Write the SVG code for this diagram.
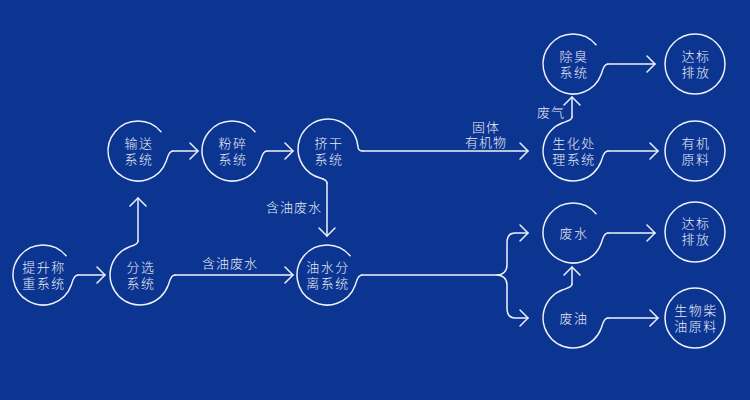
<svg xmlns="http://www.w3.org/2000/svg" width="750" height="400" viewBox="0 0 750 400">
<style>
.bg{fill:#0c3491}
.o{fill:none;stroke:#eef2fa;stroke-width:1.5;stroke-linecap:round;stroke-linejoin:round}
.t{font-family:"Liberation Sans","Noto Sans CJK SC",sans-serif;font-size:13px;font-weight:300;fill:#e8edf7;text-anchor:middle;letter-spacing:1.5px}
.l{font-family:"Liberation Sans","Noto Sans CJK SC",sans-serif;font-size:13px;font-weight:300;fill:#e8edf7;letter-spacing:1px}
</style>
<rect class="bg" x="0" y="0" width="750" height="400"/>
<g id="connectors" class="o">
<path d="M78,275 L105,275"/><polyline points="97,267 105,275 97,283"/>
<path d="M138,241 L138,198"/><polyline points="130,206 138,198 146,206"/>
<path d="M175,275 L293,275"/><polyline points="285,267 293,275 285,283"/>
<path d="M173,151 L198,151"/><polyline points="190,143 198,151 190,159"/>
<path d="M267,151 L293,151"/><polyline points="285,143 293,151 285,159"/>
<path d="M327,183 L327,236"/><polyline points="319,228 327,236 335,228"/>
<path d="M363,151 L528,151"/><polyline points="520,143 528,151 520,159"/>
<path d="M362,275 L497,275 C503,275 507,271 507,265 L507,243 C507,237 509,233 515,233 L528,233"/><polyline points="520,225 528,233 520,241"/>
<path d="M497,275 C503,275 507,279 507,285 L507,308 C507,314 509,318 515,318 L528,318"/><polyline points="520,310 528,318 520,326"/>
<path d="M608,64 L655,64"/><polyline points="647,56 655,64 647,72"/>
<path d="M572,117 L572,97"/><polyline points="564,105 572,97 580,105"/>
<path d="M608,151 L658,151"/><polyline points="650,143 658,151 650,159"/>
<path d="M608,233 L655,233"/><polyline points="647,225 655,233 647,241"/>
<path d="M572,284 L572,267"/><polyline points="564,275 572,267 580,275"/>
<path d="M608,318 L658,318"/><polyline points="650,310 658,318 650,326"/>
</g>
<g id="labels">
<text class="l" x="230" y="268" text-anchor="middle">含油废水</text>
<text class="l" x="322" y="212" text-anchor="end">含油废水</text>
<text class="l" text-anchor="middle" x="486" y="132">固体<tspan x="486" dy="15">有机物</tspan></text>
<text class="l" x="551" y="117" text-anchor="middle">废气</text>
</g>
<g id="n-lift">
<path class="o" d="M66,255.7 A30,30 0 1 0 71.2,285.3 C72.6,281.5 73.5,275 78,275"/>
<text class="t" x="44" y="272">提升称<tspan x="44" dy="16">重系统</tspan></text>
</g>
<g id="n-sort">
<path class="o" d="M138,241 C138,244.5 133,245.6 129.7,246.8 A30,30 0 1 0 168.2,285.3 C169.6,281.5 170.5,275 175,275"/>
<text class="t" x="141" y="272">分选<tspan x="141" dy="16">系统</tspan></text>
</g>
<g id="n-convey">
<path class="o" d="M161,131.7 A30,30 0 1 0 166.2,161.3 C167.6,157.5 168.5,151 173,151"/>
<text class="t" x="139" y="148">输送<tspan x="139" dy="16">系统</tspan></text>
</g>
<g id="n-crush">
<path class="o" d="M255,131.7 A30,30 0 1 0 260.2,161.3 C261.6,157.5 262.5,151 267,151"/>
<text class="t" x="233" y="148">粉碎<tspan x="233" dy="16">系统</tspan></text>
</g>
<g id="n-squeeze">
<path class="o" d="M327,183 C327,180 323.1,178.8 320.2,178 A30,30 0 1 1 357.9,146.4 C358.2,149.5 359,151 363,151"/>
<text class="t" x="329" y="148">挤干<tspan x="329" dy="16">系统</tspan></text>
</g>
<g id="n-oilwater">
<path class="o" d="M350,255.7 A30,30 0 1 0 355.2,285.3 C356.6,281.5 357.5,275 362,275"/>
<text class="t" x="328" y="272">油水分<tspan x="328" dy="16">离系统</tspan></text>
</g>
<g id="n-deodor">
<path class="o" d="M596,44.7 A30,30 0 1 0 601.2,74.3 C602.6,70.5 603.5,64 608,64"/>
<text class="t" x="574" y="61">除臭<tspan x="574" dy="16">系统</tspan></text>
</g>
<g id="n-bio">
<path class="o" d="M572,117 C572,120.5 566,121.6 562.7,122.8 A30,30 0 1 0 601.2,161.3 C602.6,157.5 603.5,151 608,151"/>
<text class="t" x="574" y="148">生化处<tspan x="574" dy="16">理系统</tspan></text>
</g>
<g id="n-wastewater">
<path class="o" d="M596,213.7 A30,30 0 1 0 601.2,243.3 C602.6,239.5 603.5,233 608,233"/>
<text class="t" x="574" y="238">废水</text>
</g>
<g id="n-wasteoil">
<path class="o" d="M572,284 C572,287.5 566,288.6 562.7,289.8 A30,30 0 1 0 601.2,328.3 C602.6,324.5 603.5,318 608,318"/>
<text class="t" x="574" y="323">废油</text>
</g>
<g id="n-emit1">
<circle class="o" cx="695" cy="64" r="30"/>
<text class="t" x="696" y="61">达标<tspan x="696" dy="16">排放</tspan></text>
</g>
<g id="n-organic">
<circle class="o" cx="695" cy="151" r="30"/>
<text class="t" x="696" y="148">有机<tspan x="696" dy="16">原料</tspan></text>
</g>
<g id="n-emit2">
<circle class="o" cx="695" cy="232" r="30"/>
<text class="t" x="696" y="228">达标<tspan x="696" dy="16">排放</tspan></text>
</g>
<g id="n-biodiesel">
<circle class="o" cx="695" cy="318" r="30"/>
<text class="t" x="696" y="315">生物柴<tspan x="696" dy="16">油原料</tspan></text>
</g>
</svg>
